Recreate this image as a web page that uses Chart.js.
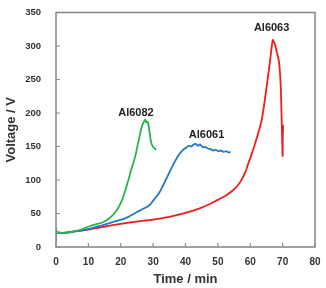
<!DOCTYPE html>
<html>
<head>
<meta charset="utf-8">
<script src="https://cdn.jsdelivr.net/npm/chart.js@4.4.1/dist/chart.umd.min.js"></script>
<style>
html,body{margin:0;padding:0;background:#fff;}
#wrap{width:326px;height:288px;position:relative;}
</style>
</head>
<body>
<div id="wrap"><canvas id="c" width="326" height="288"></canvas></div>
<script>
// Al6082 (green)
const timeAl6082 = [0, 0, 0.3, 2, 4.3, 7, 10.4, 12.5, 14.5, 16.5, 18.5, 19.5, 20.5, 21.5, 22.6, 23.2, 24, 24.7, 25.3, 25.8, 26.4, 26.9, 27.3, 27.6, 27.9, 28.3, 28.6, 29, 29.4, 29.9, 30.5, 30.9];
const voltAl6082 = [8, 28, 22, 21, 22, 25, 31, 34, 37, 43, 53, 61, 71, 86, 104, 115, 127, 140, 154, 165, 178, 185, 188, 190, 186, 187, 181, 168, 156, 150, 147, 145];
// Al6061 (blue)
const timeAl6061 = [0, 2, 4.3, 7, 10.4, 14, 18.5, 21.5, 24.6, 26.5, 28.8, 30.3, 31.9, 33, 34, 35, 36, 37, 38, 39, 40.1, 41, 41.8, 42.5, 43.2, 43.8, 44.5, 45.3, 46.2, 47, 47.8, 48.5, 49.3, 50.2, 51, 51.8, 52.6, 53.3, 53.9];
const voltAl6061 = [22, 21, 22, 24, 27, 32, 38.5, 43, 51, 56, 62, 71, 81, 91, 101, 111, 121, 130, 138, 144, 148, 151, 150, 153, 154, 151, 153, 149, 149, 147, 146, 144, 145, 143, 144, 142, 143, 141, 142];
// Al6063 (red)
const timeAl6063 = [0, 2, 5, 10, 15, 20, 25, 30, 35, 40, 44, 47, 49.8, 52.5, 54.4, 56, 57.4, 58.5, 59.5, 60.6, 61.6, 62.4, 63.1, 63.6, 64.4, 65.1, 65.7, 66.2, 66.6, 67.0, 67.3, 67.6, 68.2, 68.9, 69.4, 69.7, 70.0, 70.05, 70.15];
const voltAl6063 = [22, 21, 23, 26, 30.5, 34.5, 38, 41, 45, 51, 57, 63, 70, 77, 83.5, 91, 101, 112, 126, 141, 156, 169, 181, 191, 216, 241, 262, 281, 298, 309, 306, 303, 291, 276, 241, 191, 136, 165, 182];

const seriesNames = ['Al6082', 'Al6061', 'Al6063'];
const xTicks = [0, 10, 20, 30, 40, 50, 60, 70, 80];
const yTicks = [0, 50, 100, 150, 200, 250, 300, 350];
// label anchors in data coordinates (time, voltage)
const labelTime = [24.7, 46.5, 66.6];
const labelVolt = [200, 167, 327];

function pts(t, v){ return t.map((x,i)=>({x:x, y:v[i]})); }

const colors = ['#2bb24c', '#1f78c8', '#f21b1b'];
const frameColor = '#8a8a8a';
const data = {
  datasets: [
    {label: seriesNames[0], data: pts(timeAl6082, voltAl6082), borderColor: colors[0]},
    {label: seriesNames[1], data: pts(timeAl6061, voltAl6061), borderColor: colors[1]},
    {label: seriesNames[2], data: pts(timeAl6063, voltAl6063), borderColor: colors[2]}
  ].map(d => Object.assign(d, {showLine:true, pointRadius:0, borderWidth:1.8, tension:0.3, fill:false}))
};

const framePlugin = {
  id: 'frame',
  afterDraw(chart){
    const ctx = chart.ctx;
    const a = chart.chartArea;
    const sx = chart.scales.x, sy = chart.scales.y;
    const tl = 4;
    ctx.save();
    ctx.strokeStyle = frameColor;
    ctx.lineWidth = 1.2;
    ctx.beginPath();
    for (const v of xTicks) {
      const x = sx.getPixelForValue(v);
      ctx.moveTo(x, a.bottom); ctx.lineTo(x, a.bottom - tl);
    }
    for (const v of yTicks) {
      const y = sy.getPixelForValue(v);
      ctx.moveTo(a.left, y); ctx.lineTo(a.left + tl, y);
    }
    ctx.stroke();
    ctx.lineWidth = 1.6;
    ctx.strokeRect(a.left, a.top, a.right - a.left, a.bottom - a.top);
    ctx.fillStyle = '#222';
    ctx.font = 'bold 11px "Liberation Sans", Arial, sans-serif';
    ctx.textAlign = 'center';
    ctx.textBaseline = 'middle';
    seriesNames.forEach((n,i) => {
      ctx.fillText(n, sx.getPixelForValue(labelTime[i]), sy.getPixelForValue(labelVolt[i]));
    });
    ctx.restore();
  }
};

const tickFont = (s) => ({family:'"Liberation Sans", Arial, sans-serif', size:s, weight:'bold'});

new Chart(document.getElementById('c'), {
  type: 'scatter',
  data: data,
  options: {
    responsive: false,
    animation: false,
    devicePixelRatio: 1,
    layout: {padding: {top: 12.5, right: 11, left: 0, bottom: 0}},
    plugins: {legend: {display:false}, tooltip: {enabled:false}},
    scales: {
      x: {
        type: 'linear', min: 0, max: 80,
        afterBuildTicks(s){ s.ticks = xTicks.map(v => ({value:v})); },
        afterFit(s){ s.height = 41; },
        grid: {display: false, drawTicks: true, tickLength: 8},
        border: {display: false},
        ticks: {color:'#333', font:tickFont(10), padding: 1, maxRotation:0},
        title: {display:true, text:'Time / min', color:'#333', font:tickFont(13), padding:{top:0,bottom:1}}
      },
      y: {
        type: 'linear', min: 0, max: 350,
        afterBuildTicks(s){ s.ticks = yTicks.map(v => ({value:v})); },
        afterFit(s){ s.width = 56; },
        grid: {display: false, drawTicks: true, tickLength: 14},
        border: {display: false},
        ticks: {color:'#333', font:tickFont(9.5), padding: 1},
        title: {display:true, text:'Voltage / V', color:'#333', font:tickFont(13), padding:{top:4,bottom:4}}
      }
    }
  },
  plugins: [framePlugin]
});
</script>
</body>
</html>
